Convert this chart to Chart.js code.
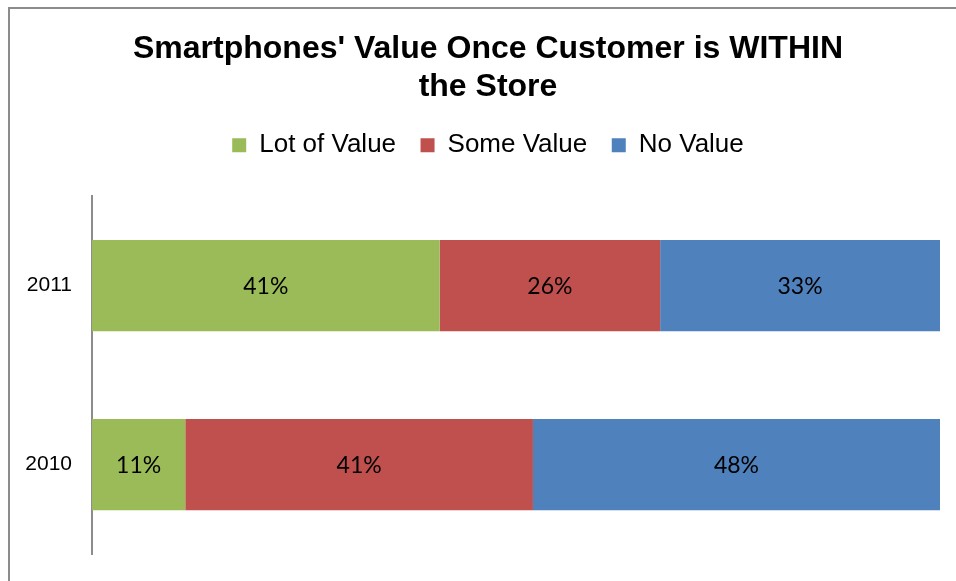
<!DOCTYPE html>
<html>
<head>
<meta charset="utf-8">
<title>Smartphones' Value Once Customer is WITHIN the Store</title>
<script src="https://cdn.jsdelivr.net/npm/chart.js@4.4.1/dist/chart.umd.min.js"></script>
<style>
  html, body { margin: 0; padding: 0; background: #fff; }
  #wrap { position: relative; width: 956px; height: 581px; overflow: hidden; }
  #frame { position: absolute; left: 8px; top: 7px; width: 1000px; height: 1000px;
           border: 2px solid #8c8c8c; box-sizing: border-box; }
  #myChart { position: absolute; left: 0; top: 0; }
</style>
</head>
<body>
<div id="wrap">
  <div id="frame"></div>
  <canvas id="myChart" width="956" height="581"></canvas>
</div>
<script>
// survey years, top row first
var years = ['2011', '2010'];

// share of answers per year, in percent
var lotOfValue = [41, 11];
var someValue = [26, 41];
var noValue = [33, 48];

// prints each segment's percentage in the middle of the bar
var barLabels = {
    id: 'barLabels',
    afterDatasetsDraw: function(chart) {
        var ctx = chart.ctx;
        ctx.save();
        ctx.font = '23px Lato, "DejaVu Sans", sans-serif';
        ctx.fillStyle = '#000';
        ctx.textAlign = 'center';
        ctx.textBaseline = 'middle';
        chart.data.datasets.forEach(function(ds, i) {
            chart.getDatasetMeta(i).data.forEach(function(bar, j) {
                var c = bar.getCenterPoint();
                ctx.fillText(ds.data[j] + '%', c.x, c.y + 1);
            });
        });
        ctx.restore();
    }
};

// title and legend sit centred on the frame, a bit right of the canvas middle
var headerShift = {
    id: 'headerShift',
    afterLayout: function(chart) {
        chart.titleBlock.left = 36;
        chart.legend.left = 36;
    }
};

var ctx = document.getElementById('myChart').getContext('2d');

var mychart = new Chart(ctx, {
    type: 'bar',
    data: {
        labels: years,
        datasets: [{
            label: 'Lot of Value',
            backgroundColor: '#9bbb59',
            data: lotOfValue
        }, {
            label: 'Some Value',
            backgroundColor: '#c0504d',
            data: someValue
        }, {
            label: 'No Value',
            backgroundColor: '#4f81bd',
            data: noValue
        }]
    },
    options: {
        indexAxis: 'y',
        responsive: false,
        animation: false,
        categoryPercentage: 1,
        barPercentage: 0.51,
        layout: { padding: { left: 0, right: 16, top: 0, bottom: 27 } },
        plugins: {
            title: {
                display: true,
                text: ["Smartphones' Value Once Customer is WITHIN", 'the Store'],
                color: '#000',
                font: { family: '"Liberation Sans", Arial, sans-serif', size: 32, weight: 'bold', lineHeight: 1.19 },
                padding: { top: 30, bottom: 1.5 }
            },
            legend: {
                labels: {
                    color: '#000',
                    boxWidth: 14,
                    boxHeight: 14,
                    padding: 24.5,
                    font: { family: '"Liberation Sans", Arial, sans-serif', size: 26 }
                }
            },
            tooltip: { enabled: false }
        },
        scales: {
            x: {
                position: 'top',
                stacked: true,
                min: 0,
                max: 100,
                ticks: { display: false },
                grid: { display: false, drawTicks: false },
                border: { display: false },
                afterFit: function(scale) { scale.height = 28; }
            },
            y: {
                stacked: true,
                grid: { display: false, drawTicks: false },
                border: { display: true, color: '#8c8c8c', width: 2 },
                ticks: {
                    color: '#000',
                    padding: 20,
                    font: { family: '"Liberation Sans", Arial, sans-serif', size: 21 }
                },
                afterFit: function(scale) {
                    scale.width = 92;
                    scale.paddingTop = 0;
                    scale.paddingBottom = 0;
                }
            }
        }
    },
    plugins: [barLabels, headerShift]
});
</script>
</body>
</html>
